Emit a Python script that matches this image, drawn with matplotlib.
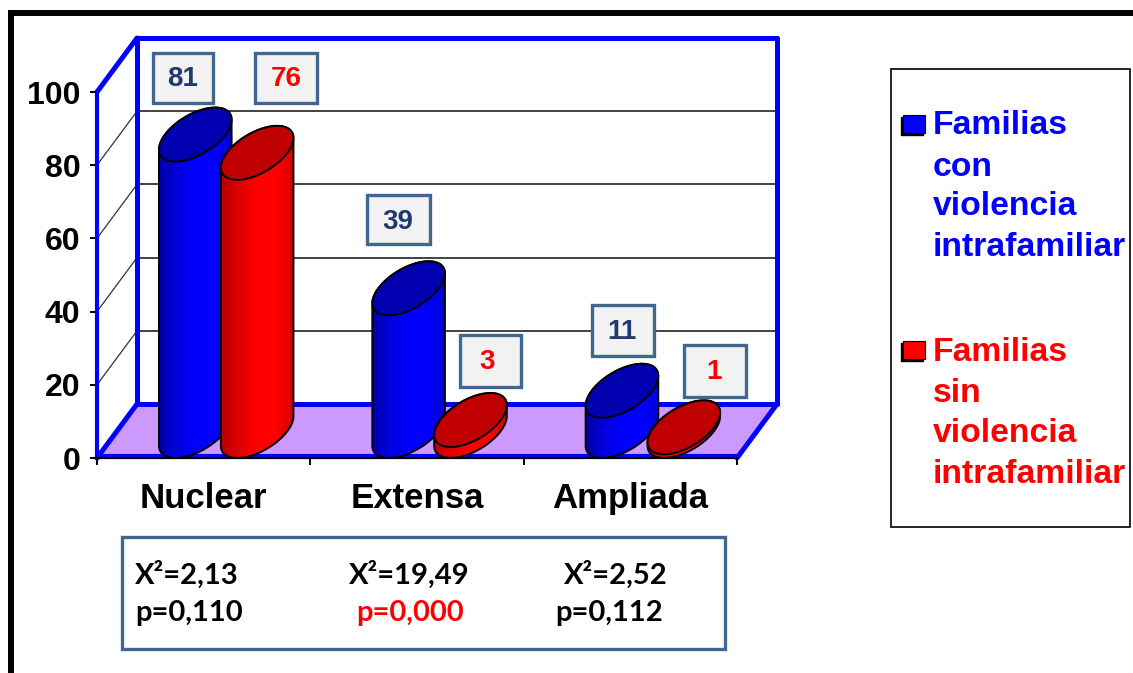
import numpy as np
import matplotlib
matplotlib.use("Agg")
import matplotlib.pyplot as plt
from matplotlib.colors import LinearSegmentedColormap
from matplotlib.lines import Line2D
from matplotlib.patches import Polygon, Rectangle

categories = ["Nuclear", "Extensa", "Ampliada"]
con_violencia = [81, 39, 11]
sin_violencia = [76, 3, 1]
y_ticks = [0, 20, 40, 60, 80, 100]
legend_con = ["Familias", "con", "violencia", "intrafamiliar"]
legend_sin = ["Familias", "sin", "violencia", "intrafamiliar"]
chi_labels = ["X²=2,13", "X²=19,49", "X²=2,52"]
p_labels = ["p=0,110", "p=0,000", "p=0,112"]

W, H = 1133, 673
BLUE = "#0000ff"
RED = "#ff0000"
FONT = "Liberation Sans"

# depth of the fake 3d box, in data units
DEPTH_X = 0.1875
DEPTH_Y = 14.75
BAR_A = 0.142
BAR_OFFSET = 0.145
BAR_SHIFT = 0.012

plt.rcParams["font.family"] = FONT
fig = plt.figure(figsize=(W / 100, H / 100), dpi=100, facecolor="white")


def fx(px):
    return px / W


def fy(py):
    return 1 - py / H


def px_rect(x0, y0, x1, y1, **kw):
    fig.add_artist(Rectangle((fx(x0), fy(y1)), (x1 - x0) / W, (y1 - y0) / H,
                             transform=fig.transFigure, **kw))


def px_line(xs, ys, **kw):
    fig.add_artist(Line2D([fx(x) for x in xs], [fy(y) for y in ys],
                          transform=fig.transFigure, **kw))


# outer frame, runs off the right and bottom edges
px_line([11, 11], [H + 5, 12.5], color="black", lw=4.3, solid_capstyle="projecting")
px_line([11, W + 5], [12.5, 12.5], color="black", lw=4.3, solid_capstyle="projecting")

ax = fig.add_axes([fx(97), fy(458), 640 / W, 366 / H])
ax.patch.set_visible(False)


def draw_box():
    x1 = 3
    floor = [(0, 0), (x1, 0), (x1 + DEPTH_X, DEPTH_Y), (DEPTH_X, DEPTH_Y)]
    ax.add_patch(Polygon(floor, fc="#cc99ff", ec="none", zorder=1, clip_on=False))
    for v in y_ticks[1:-1]:
        ax.plot([DEPTH_X, x1 + DEPTH_X], [v + DEPTH_Y] * 2, color="#222222", lw=1.2, zorder=1.2, clip_on=False)
        ax.plot([0, DEPTH_X], [v, v + DEPTH_Y], color="#333333", lw=0.9, zorder=1.2, clip_on=False)
    wall = dict(color=BLUE, lw=3.6, zorder=1.5, clip_on=False, solid_capstyle="round")
    top = 100 + DEPTH_Y
    ax.plot([DEPTH_X, DEPTH_X], [DEPTH_Y, top], **wall)
    ax.plot([DEPTH_X, x1 + DEPTH_X], [top, top], **wall)
    ax.plot([x1 + DEPTH_X, x1 + DEPTH_X], [DEPTH_Y, top], **wall)
    ax.plot([DEPTH_X, x1 + DEPTH_X], [DEPTH_Y, DEPTH_Y], **wall)
    ax.plot([0, DEPTH_X], [100, top], **wall)
    ax.plot([0, DEPTH_X], [0, DEPTH_Y], **wall)
    ax.plot([x1, x1 + DEPTH_X], [0, DEPTH_Y], **wall)
    ax.plot([0, x1], [0.6, 0.6], color=BLUE, lw=3, zorder=1.5, clip_on=False)


def ellipse_points(x_front, value, t):
    # circle on the floor sheared by the depth vector
    bx, by = DEPTH_X / 2, DEPTH_Y / 2
    return (x_front + bx + BAR_A * np.cos(t) + bx * np.sin(t),
            value + by + by * np.sin(t))


def draw_cylinder(x_front, value, body_colors, cap_color, z):
    bx = DEPTH_X / 2
    t0 = np.arctan2(bx, BAR_A)
    t_top = np.linspace(t0, t0 + np.pi, 40)
    t_low = np.linspace(t0 + np.pi, t0 + 2 * np.pi, 40)
    xt, yt = ellipse_points(x_front, value, t_top)
    xl, yl = ellipse_points(x_front, 0, t_low)
    xs = np.r_[xt, xl]
    ys = np.r_[yt, yl]
    outline = Polygon(np.c_[xs, ys], fc="none", ec="black", lw=1.4, zorder=z + 0.2, clip_on=False)
    ax.add_patch(outline)

    # shaded side of the cylinder
    cmap = LinearSegmentedColormap.from_list("body", body_colors)
    grad = np.linspace(0, 1, 128).reshape(1, -1)
    im = ax.imshow(grad, cmap=cmap, aspect="auto", zorder=z,
                   extent=(xs.min(), xs.max(), ys.min(), ys.max()))
    im.set_clip_path(Polygon(np.c_[xs, ys], transform=ax.transData))

    t = np.linspace(0, 2 * np.pi, 90)
    xc, yc = ellipse_points(x_front, value, t)
    ax.add_patch(Polygon(np.c_[xc, yc], fc=cap_color, ec="black", lw=1.4, zorder=z + 0.3, clip_on=False))


draw_box()

blue_shades = ["#0000a8", "#0000e0", "#0000ff", "#0000ff", "#0000d8"]
red_shades = ["#b80000", "#e00000", "#ff0000", "#ff0000", "#d80000"]
for i in range(len(categories)):
    centre = i + 0.5 + BAR_SHIFT
    draw_cylinder(centre - BAR_OFFSET, con_violencia[i], blue_shades, "#0000b0", 3 + i)
    draw_cylinder(centre + BAR_OFFSET, sin_violencia[i], red_shades, "#c00000", 3.5 + i)

ax.set_xlim(0, 3)
ax.set_ylim(0, 100)
ax.set_xticks([0, 1, 2, 3])
ax.set_xticklabels([])
ax.set_xticks([0.5, 1.5, 2.5], categories, minor=True)
ax.set_yticks(y_ticks)
ax.tick_params(axis="y", length=5, width=1.4, pad=7, labelsize=23, labelfontfamily=FONT)
ax.tick_params(axis="x", which="major", length=5, width=1.4)
ax.tick_params(axis="x", which="minor", length=0, pad=17, labelsize=25)
for label in ax.get_yticklabels() + ax.get_xticklabels(minor=True):
    label.set_fontweight("bold")
for side in ("top", "right"):
    ax.spines[side].set_visible(False)
ax.spines["left"].set_color(BLUE)
ax.spines["left"].set_linewidth(3)
ax.spines["left"].set_zorder(1.6)
ax.spines["bottom"].set_color("black")
ax.spines["bottom"].set_linewidth(1.6)
ax.spines["bottom"].set_zorder(20)

# value boxes above each cylinder
EDGE = "#41668f"
value_boxes = [(153, 53, 213, 103), (255, 53, 317, 103), (367, 195, 430, 244),
               (460, 335, 521, 387), (592, 305, 654, 356), (684, 345, 746, 397)]
value_text_x = [183, 286, 398, 487, 622, 714]
value_text_y = [79, 79, 222, 362, 332, 372]
box_values = [con_violencia[0], sin_violencia[0], con_violencia[1],
              sin_violencia[1], con_violencia[2], sin_violencia[2]]
box_colors = ["#1f3a70", RED, "#1f3a70", RED, "#1f3a70", RED]
for j, (x0, y0, x1, y1) in enumerate(value_boxes):
    px_rect(x0, y0, x1, y1, fc="#f2f2f2", ec=EDGE, lw=2.4, zorder=30)
    fig.text(fx(value_text_x[j]), fy(value_text_y[j]), str(box_values[j]), color=box_colors[j],
             fontsize=20, fontweight="bold", ha="center", va="center", zorder=31)

# legend box
px_rect(891, 69, 1130, 527, fc="white", ec="black", lw=1.2, zorder=5)
legend_rows = [(legend_con, BLUE, [134, 176, 215, 256], 115),
               (legend_sin, RED, [361, 402, 442, 483], 341)]
for lines, color, rows, key_y in legend_rows:
    px_rect(901, key_y + 2, 923, key_y + 20, fc="black", ec="black", lw=1, zorder=6)
    px_rect(903, key_y, 925, key_y + 18, fc=color, ec="black", lw=0.8, zorder=7)
    for line, row in zip(lines, rows):
        fig.text(fx(933), fy(row), line, color=color, fontsize=24.3, fontweight="bold",
                 ha="left", va="baseline", zorder=8)

# chi-square box
px_rect(122, 537, 725, 649, fc="white", ec=EDGE, lw=2.4, zorder=5)
chi_x = [135, 349, 564]
p_x = [135, 356, 555]
p_colors = ["black", RED, "black"]
for label, x in zip(chi_labels, chi_x):
    fig.text(fx(x), fy(575), label, color="black", fontsize=21, fontweight="bold",
             family=["Lato", "DejaVu Sans"], ha="left", va="center", zorder=6)
for label, x, color in zip(p_labels, p_x, p_colors):
    fig.text(fx(x), fy(613), label, color=color, fontsize=21, fontweight="bold",
             family=["Lato", "DejaVu Sans"], ha="left", va="center", zorder=6)

fig.savefig("out.png", dpi=100)
